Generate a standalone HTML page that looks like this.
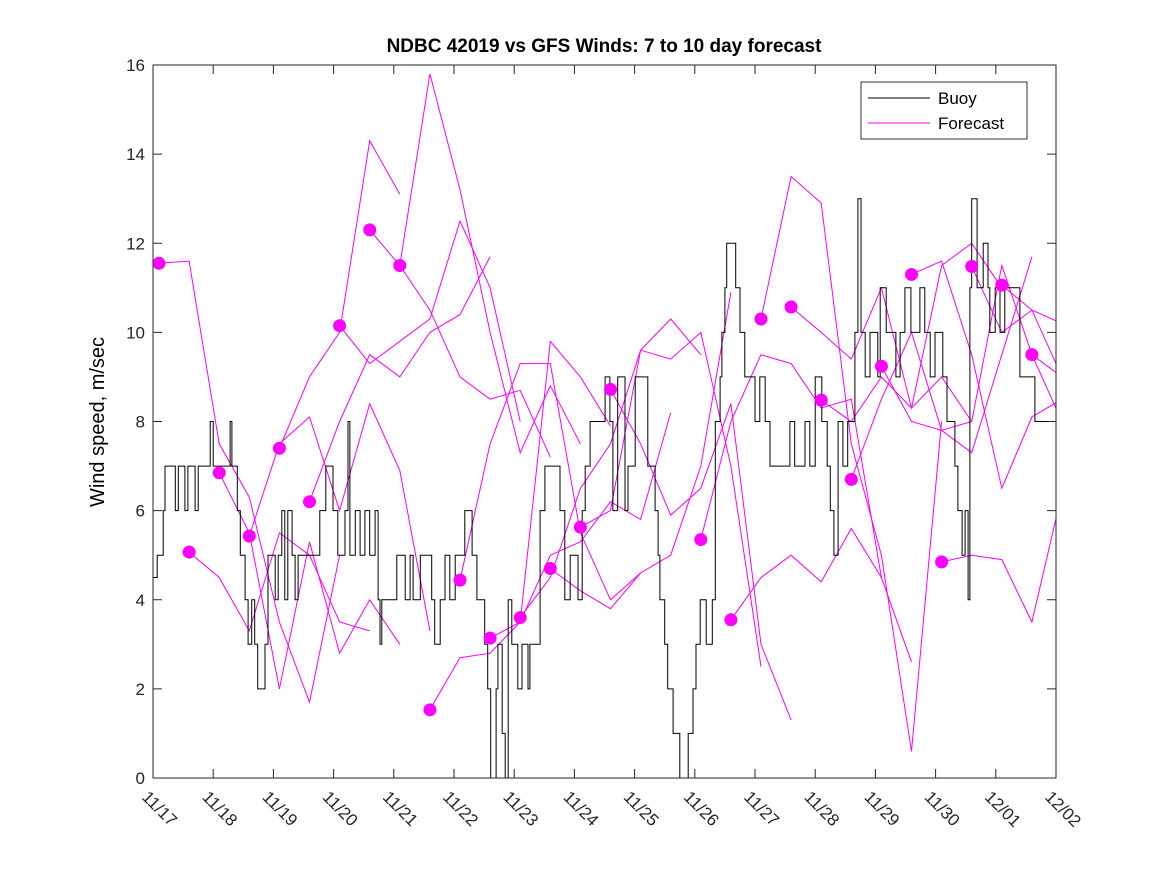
<!DOCTYPE html>
<html><head><meta charset="utf-8"><style>
body{margin:0;background:#fff;}
svg{display:block;font-family:"Liberation Sans",sans-serif;}
</style></head><body>
<svg id="chart" width="1167" height="875">
<rect width="1167" height="875" fill="#fff"/>
<text x="604" y="52" text-anchor="middle" font-size="19" font-weight="bold">NDBC 42019 vs GFS Winds: 7 to 10 day forecast</text>
<text transform="translate(104,422) rotate(-90)" text-anchor="middle" font-size="20">Wind speed, m/sec</text>
<defs><clipPath id="clip"><rect x="153" y="65" width="903" height="713"/></clipPath></defs>
<g id="marks" clip-path="url(#clip)"></g>
<g id="axes"></g>
<g>
<rect x="861" y="82" width="166" height="57" fill="#fff" stroke="#000" stroke-width="0.8"/>
<line x1="868" y1="98" x2="930" y2="98" stroke="#000"/>
<text x="938" y="104" font-size="17">Buoy</text>
<line x1="868" y1="123" x2="930" y2="123" stroke="#f0f"/>
<text x="938" y="129" font-size="17">Forecast</text>
</g>
</svg>
<script>
const xLabels=["11/17","11/18","11/19","11/20","11/21","11/22","11/23","11/24","11/25","11/26","11/27","11/28","11/29","11/30","12/01","12/02"];
const yTicks=[0,2,4,6,8,10,12,14,16];
const buoyDays=[0,0.07,0.17,0.2,0.37,0.42,0.53,0.58,0.7,0.75,0.95,1.0,1.28,1.31,1.4,1.45,1.53,1.58,1.64,1.69,1.74,1.86,1.91,2.03,2.08,2.14,2.19,2.24,2.31,2.36,2.41,2.77,2.87,2.99,3.07,3.19,3.24,3.27,3.36,3.44,3.52,3.6,3.69,3.74,3.77,3.8,4.05,4.19,4.27,4.32,4.44,4.63,4.68,4.77,4.85,4.93,5.02,5.18,5.3,5.38,5.51,5.56,5.61,5.7,5.73,5.8,5.85,5.9,5.96,6.06,6.13,6.23,6.26,6.43,6.51,6.76,6.84,6.93,7.06,7.13,7.18,7.26,7.51,7.59,7.64,7.72,7.84,7.89,8.01,8.22,8.34,8.39,8.42,8.5,8.55,8.64,8.75,8.89,8.97,9.02,9.09,9.19,9.29,9.34,9.42,9.45,9.5,9.53,9.68,9.75,9.83,10,10.08,10.17,10.25,10.58,10.66,10.83,10.91,11,11.11,11.2,11.25,11.31,11.38,11.46,11.54,11.66,11.71,11.76,11.83,11.91,12.04,12.08,12.18,12.34,12.41,12.49,12.59,12.74,12.82,12.91,12.99,13.12,13.19,13.32,13.37,13.44,13.49,13.54,13.57,13.6,13.69,13.79,13.87,13.9,13.99,14.07,14.15,14.32,14.4,14.65,14.82,15];
const buoyVals=[4.5,5,6,7,6,7,6,7,6,7,8,7,8,7,6,5,4,3,4,3,2,3,5,4,5,6,4,6,5,4,5,6,7,6,5,6,8,5,6,5,6,5,6,4,3,4,5,4,5,4,5,4,3,4,5,4,5,6,5,4,3,2,0,2,3,1,0,4,3,2,3,2,3,6,7,6,4,5,4,6,7,8,9,8,6,9,6,7,9,7,6,5,4,3,2,1,0,1,2,3,4,3,4,8,9,10,11,12,11,10,9,8,9,8,7,8,7,8,7,9,8,7,6,5,8,7,8,10,13,10,9,10,9,11,10,9,10,11,10,11,10,9,10,9,8,7,6,5,6,4,11,13,11,12,11,10,11,10,11,11,9,8,8,8];
const dotDays=[0.1,0.6,1.1,1.6,2.1,2.6,3.1,3.6,4.1,4.6,5.1,5.6,6.1,6.6,7.1,7.6,9.1,9.6,10.1,10.6,11.1,11.6,12.1,12.6,13.1,13.6,14.1,14.6];
const fc0=[11.55,11.6,7.5,6.3,3.5,1.7,5.0];
const fc1=[5.07,4.5,3.3,5.5,5.0,3.5,3.3];
const fc2=[6.85,5.5,2.0,5.3,2.8,4.0,3.0];
const fc3=[5.43,7.5,8.1,6.0,8.4,6.9,3.3];
const fc4=[7.4,9.0,10.0,14.3,13.1];
const fc5=[6.2,8.0,9.5,9.0,10.0,10.4,11.7];
const fc6=[10.15,9.3,9.8,10.3,12.5,11.0,8.0];
const fc7=[12.3,11.5,10.5,9.0,8.5,8.7,7.2];
const fc8=[11.5,15.8,13.2,10.0,7.3,8.8,7.5];
const fc9=[1.53,2.7,2.8,3.5,9.8,9.0,7.9];
const fc10=[4.44,7.5,9.3,9.3,5.5,4.0,4.6];
const fc11=[3.14,3.5,5.0,5.3,6.2,5.8,8.2];
const fc12=[3.6,4.5,6.5,7.5,9.6,10.3,9.5];
const fc13=[4.7,4.2,3.8,4.6,5.0,7.0,10.9];
const fc14=[5.63,6.0,9.6,9.4,10.0,7.0,2.5];
const fc15=[8.72,7.5,5.9,6.5,8.4,3.0,1.3];
const fc16=[5.35,8.0,9.5,9.3,8.3,8.5,4.5];
const fc17=[3.55,4.5,5.0,4.4,5.6,4.5,2.6];
const fc18=[10.3,13.5,12.9,7.5,5.0,0.6,8.0];
const fc19=[10.57,10.0,9.4,11.0,8.3,9.0,8.0];
const fc20=[8.48,8.0,9.0,8.3,11.5,12.0,11.0];
const fc21=[6.7,8.5,10.0,7.8,7.3,9.5,11.7];
const fc22=[9.24,8.0,7.8,8.0,11.5,9.5,8.0];
const fc23=[11.3,11.6,9.5,6.5,8.1,8.5,9.0];
const fc24=[4.85,5.0,4.9,3.5,6.4];
const fc25=[11.48,10.0,10.5,9.0,8.0,7.3];
const fc26=[11.06,10.5,10.2,8.5,6.5];
const fc27=[9.5,9.0,7.3];
const forecasts=[fc0,fc1,fc2,fc3,fc4,fc5,fc6,fc7,fc8,fc9,fc10,fc11,fc12,fc13,fc14,fc15,fc16,fc17,fc18,fc19,fc20,fc21,fc22,fc23,fc24,fc25,fc26,fc27];
const fcStep=0.5;

const X0=153,X1=1056,Y0=778,Y1=65;
const xS=d=>X0+(X1-X0)*d/15;
const yS=v=>Y0-(Y0-Y1)*v/16;
const NS="http://www.w3.org/2000/svg";
const marks=document.getElementById('marks');
const axes=document.getElementById('axes');
function mk(tag,attrs,parent){const e=document.createElementNS(NS,tag);for(const k in attrs)e.setAttribute(k,attrs[k]);parent.appendChild(e);return e;}

forecasts.forEach((s,i)=>{
  const pts=s.map((v,j)=>xS(dotDays[i]+j*fcStep).toFixed(1)+','+yS(v).toFixed(1)).join(' ');
  const p=mk('polyline',{points:pts,fill:'none',stroke:'#f0f','stroke-width':1},marks);
  
  
});
let bp=[];
buoyVals.forEach((v,i)=>{const x0=xS(buoyDays[i]),x1=xS(i+1<buoyDays.length?buoyDays[i+1]:15);bp.push(x0.toFixed(1)+','+yS(v).toFixed(1));bp.push(x1.toFixed(1)+','+yS(v).toFixed(1));});
const bl=mk('polyline',{points:bp.join(' '),fill:'none',stroke:'#000','stroke-width':1},marks);


dotDays.forEach((d,i)=>{
  const c=mk('circle',{cx:xS(d),cy:yS(forecasts[i][0]),r:6.5,fill:'#f0f'},marks);
  
  
});

const fr=mk('rect',{x:X0,y:Y1,width:X1-X0,height:Y0-Y1,fill:'none',stroke:'#262626','stroke-width':1},axes);


yTicks.forEach(v=>{
  const y=yS(v);
  mk('line',{x1:X0,y1:y,x2:X0+9,y2:y,stroke:'#262626'},axes);
  mk('line',{x1:X1,y1:y,x2:X1-9,y2:y,stroke:'#262626'},axes);
  const t=mk('text',{x:X0-8,y:y+6,'text-anchor':'end','font-size':17,fill:'#262626'},axes);
  t.textContent=v;
  
  
});
xLabels.forEach((l,i)=>{
  const x=xS(i);
  mk('line',{x1:x,y1:Y0,x2:x,y2:Y0-9,stroke:'#262626'},axes);
  mk('line',{x1:x,y1:Y1,x2:x,y2:Y1+9,stroke:'#262626'},axes);
  const t=mk('text',{transform:`translate(${x-12},${Y0+20}) rotate(45)`,'font-size':17,fill:'#262626'},axes);
  t.textContent=l;
  
  
});
</script>
</body></html>
